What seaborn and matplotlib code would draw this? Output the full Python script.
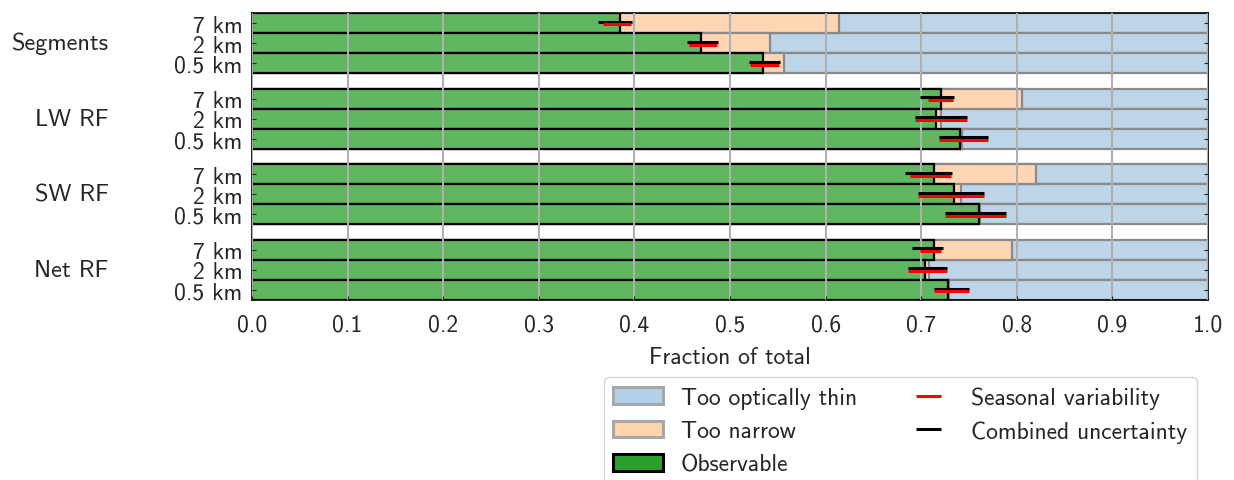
import numpy as np
import pandas as pd
import matplotlib
matplotlib.use("Agg")
import matplotlib.pyplot as plt
import seaborn as sns
from matplotlib.patches import Patch
from matplotlib.legend_handler import HandlerErrorbar

# data
groups = ["Segments", "LW RF", "SW RF", "Net RF"]
scales = ["7 km", "2 km", "0.5 km"]
observable = [0.385, 0.470, 0.535,
              0.721, 0.716, 0.741,
              0.713, 0.734, 0.760,
              0.713, 0.704, 0.728]
too_narrow = [0.229, 0.072, 0.021,
              0.084, 0.005, 0.002,
              0.107, 0.008, 0.002,
              0.082, 0.004, 0.001]
# combined uncertainty range (black)
comb_lo = [0.362, 0.455, 0.520, 0.699, 0.693, 0.719, 0.683, 0.697, 0.725, 0.690, 0.686, 0.713]
comb_hi = [0.397, 0.487, 0.552, 0.734, 0.748, 0.770, 0.732, 0.766, 0.789, 0.723, 0.727, 0.750]
# seasonal variability range (red)
seas_lo = [0.367, 0.457, 0.521, 0.707, 0.693, 0.719, 0.688, 0.697, 0.725, 0.699, 0.686, 0.713]
seas_hi = [0.396, 0.486, 0.551, 0.733, 0.748, 0.770, 0.731, 0.766, 0.789, 0.721, 0.727, 0.750]

sns.set_style("white")
plt.rcParams["font.family"] = ["cmss10", "DejaVu Sans"]
plt.rcParams["font.size"] = 17

# row positions: 3 bars per group, gap between groups
pos = [g * 3.75 + r for g in range(len(groups)) for r in range(len(scales))]
df = pd.DataFrame({
    "pos": pos,
    "observable": observable,
    "narrow_end": np.array(observable) + np.array(too_narrow),
    "total": 1.0,
})

fig = plt.figure(figsize=(12.34, 4.81), dpi=100)
ax = fig.add_axes([252 / 1234, 1 - 301 / 481, 956 / 1234, 287 / 481])

sns.barplot(data=df, x="total", y="pos", orient="h", native_scale=True, width=1.0,
            color="#bcd5e8", saturation=1, edgecolor="#8a8a8a", linewidth=1.6,
            errorbar=None, ax=ax)
sns.barplot(data=df, x="narrow_end", y="pos", orient="h", native_scale=True, width=1.0,
            color="#fed6b3", saturation=1, edgecolor="#8a8a8a", linewidth=1.6,
            errorbar=None, ax=ax)
sns.barplot(data=df, x="observable", y="pos", orient="h", native_scale=True, width=1.0,
            color="#5fb85f", saturation=1, edgecolor="black", linewidth=1.6,
            errorbar=None, ax=ax)

obs = np.array(observable)
posa = np.array(pos)
eb_black = ax.errorbar(obs, posa - 0.07,
                       xerr=[obs - np.array(comb_lo), np.array(comb_hi) - obs],
                       fmt="none", ecolor="black", elinewidth=2.2, capsize=0, zorder=5)
eb_red = ax.errorbar(obs, posa + 0.07,
                     xerr=[obs - np.array(seas_lo), np.array(seas_hi) - obs],
                     fmt="none", ecolor="red", elinewidth=2.2, capsize=0, zorder=6)

ax.set_xlim(0, 1)
ax.set_ylim(pos[-1] + 0.5, -0.5)
ax.set_xticks(np.arange(0, 1.01, 0.1))
ax.set_xticklabels([f"{t:.1f}" for t in np.arange(0, 1.01, 0.1)])
ax.set_yticks(pos)
ax.set_yticklabels(scales * len(groups))
ax.set_ylabel("")
ax.set_xlabel("Fraction of total", labelpad=7)
ax.set_axisbelow(False)
ax.grid(axis="x", color="#b0b0b0", linewidth=1.5)
ax.grid(axis="y", visible=False)
ax.tick_params(axis="y", direction="in", left=True, right=True, length=3, pad=7)
ax.tick_params(axis="x", direction="in", bottom=True, length=3, pad=10)
for s in ax.spines.values():
    s.set_color("black")
    s.set_linewidth(1.2)

for g, name in enumerate(groups):
    ax.text(-0.15, g * 3.75 + 1, name, ha="right", va="center",
            transform=ax.get_yaxis_transform(), fontsize=17.5)

handles = [
    Patch(facecolor="#b3d1e8", edgecolor="#a8a8a8", linewidth=2.2, label="Too optically thin"),
    Patch(facecolor="#ffd4ae", edgecolor="#a8a8a8", linewidth=2.2, label="Too narrow"),
    Patch(facecolor="#2ca02c", edgecolor="black", linewidth=2.2, label="Observable"),
    eb_red, eb_black,
]
labels = ["Too optically thin", "Too narrow", "Observable",
          "Seasonal variability", "Combined uncertainty"]
fig.legend(handles, labels, ncol=2, loc="upper right",
           bbox_to_anchor=(1197 / 1234, 1 - 378 / 481), bbox_transform=fig.transFigure,
           borderaxespad=0, handlelength=2.1, handleheight=0.72, labelspacing=0.48,
           handletextpad=0.75, columnspacing=2.0, fontsize=17,
           handler_map={type(eb_red): HandlerErrorbar(xerr_size=0.53)})

fig.savefig("out.png", dpi=100)
